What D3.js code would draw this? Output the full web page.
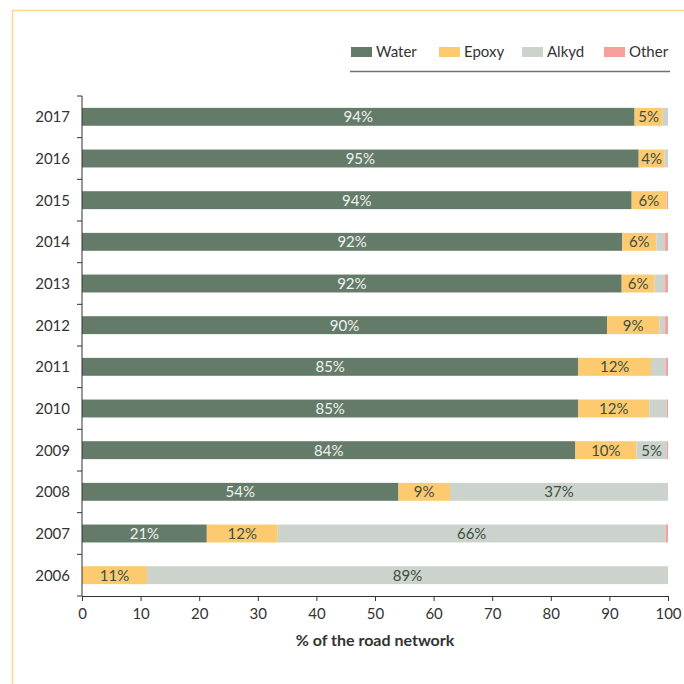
<!DOCTYPE html>
<html>
<head>
<meta charset="utf-8">
<script src="https://cdn.jsdelivr.net/npm/d3@7"></script>
<style>
  html, body { margin: 0; padding: 0; background: #fff; }
  svg { display: block; }
  text { font-family: Lato, "Open Sans", sans-serif; }
</style>
</head>
<body>
<svg id="chart" width="684" height="684"></svg>
<script>
// Share of the road network by marking type, per year (%)
const years  = ["2017","2016","2015","2014","2013","2012","2011","2010","2009","2008","2007","2006"];
const water  = [94.3, 95.0, 93.8, 92.2, 92.1, 89.6, 84.7, 84.7, 84.2, 54.0, 21.3, 0.0];
const epoxy  = [ 4.8,  4.4,  5.9,  5.8,  5.6,  8.9, 12.4, 12.1, 10.4,  8.8, 12.1, 11.1];
const alkyd  = [ 0.9,  0.6,  0.1,  1.5,  1.8,  1.0,  2.5,  3.0,  5.2, 37.2, 66.2, 88.9];
const other  = [ 0.0,  0.0,  0.2,  0.5,  0.5,  0.5,  0.4,  0.2,  0.2,  0.0,  0.4,  0.0];
const seriesNames = ["Water", "Epoxy", "Alkyd", "Other"];
const xTicks = [0, 10, 20, 30, 40, 50, 60, 70, 80, 90, 100];
const xTitle = "% of the road network";

const colors = { Water: "#657b6a", Epoxy: "#fdca70", Alkyd: "#ccd3cd", Other: "#f5a09a" };
const labelColors = { Water: "#eef2ee", Epoxy: "#3d4e40", Alkyd: "#3d4e40", Other: "#3d4e40" };

const rows = years.map((y, i) => ({
  year: y, Water: water[i], Epoxy: epoxy[i], Alkyd: alkyd[i], Other: other[i]
}));

const svg = d3.select("#chart");

// outer frame
svg.append("path")
  .attr("d", "M12.5,700 L12.5,10.5 L700,10.5")
  .attr("fill", "none")
  .attr("stroke", "#fdd88b")
  .attr("stroke-width", 1.5);

const x = d3.scaleLinear().domain([0, 100]).range([82, 668]);
const y = d3.scaleBand().domain(years).range([96, 596]).padding(0);
const barH = y.bandwidth() * 0.43;

const stack = d3.stack().keys(seriesNames)(rows);

const g = svg.append("g");
stack.forEach(layer => {
  const key = layer.key;
  const lg = g.append("g").attr("fill", colors[key]);
  lg.selectAll("rect")
    .data(layer.filter(d => d[1] - d[0] > 0))
    .join("rect")
    .attr("x", d => x(d[0]))
    .attr("width", d => x(d[1]) - x(d[0]))
    .attr("y", d => y(d.data.year) + (y.bandwidth() - barH) / 2)
    .attr("height", barH);
});

// value labels
stack.forEach(layer => {
  const key = layer.key;
  g.append("g").selectAll("text")
    .data(layer.filter(d => d[1] - d[0] >= 3.5))
    .join("text")
    .attr("x", d => x((d[0] + d[1]) / 2))
    .attr("y", d => y(d.data.year) + y.bandwidth() / 2)
    .attr("dy", "0.36em")
    .attr("text-anchor", "middle")
    .attr("font-size", 15)
    .attr("fill", labelColors[key])
    .text(d => Math.round(d[1] - d[0]) + "%");
});

// x axis
const xAxis = svg.append("g")
  .attr("transform", "translate(0,596)")
  .call(d3.axisBottom(x).tickValues(xTicks).tickSize(5).tickPadding(7).tickSizeOuter(5));
xAxis.select(".domain").attr("stroke", "#333");
xAxis.selectAll(".tick line").attr("stroke", "#333");
xAxis.selectAll(".tick text")
  .attr("font-size", 15)
  .attr("fill", "#333")
  .style("font-family", "Lato, 'Open Sans', sans-serif");

// y axis: labels centred on bars, ticks on band boundaries
const yAxis = svg.append("g").attr("transform", "translate(82,0)");
yAxis.append("line")
  .attr("y1", y.range()[0]).attr("y2", y.range()[1])
  .attr("stroke", "#333");
const bounds = years.map(d => y(d)).concat([y.range()[1]]);
yAxis.selectAll("line.tk")
  .data(bounds)
  .join("line")
  .attr("class", "tk")
  .attr("x1", -5).attr("x2", 0)
  .attr("y1", d => d).attr("y2", d => d)
  .attr("stroke", "#333");
yAxis.selectAll("text")
  .data(years)
  .join("text")
  .attr("x", -12)
  .attr("y", d => y(d) + y.bandwidth() / 2)
  .attr("dy", "0.36em")
  .attr("text-anchor", "end")
  .attr("font-size", 15)
  .attr("fill", "#333")
  .text(d => d);

// axis title
svg.append("text")
  .attr("x", x(50))
  .attr("y", 646)
  .attr("text-anchor", "middle")
  .attr("font-size", 16)
  .attr("font-weight", "bold")
  .attr("fill", "#333")
  .text(xTitle);

// legend
const legendX = [351, 439, 522, 604];
const legend = svg.append("g");
seriesNames.forEach((name, i) => {
  legend.append("rect")
    .attr("x", legendX[i]).attr("y", 47)
    .attr("width", 21).attr("height", 10)
    .attr("fill", colors[name]);
  legend.append("text")
    .attr("x", legendX[i] + 25).attr("y", 52)
    .attr("dy", "0.36em")
    .attr("font-size", 15)
    .attr("fill", "#333")
    .text(name);
});
legend.append("line")
  .attr("x1", 350).attr("x2", 670)
  .attr("y1", 71.5).attr("y2", 71.5)
  .attr("stroke", "#707070")
  .attr("stroke-width", 1.5);
</script>
</body>
</html>
